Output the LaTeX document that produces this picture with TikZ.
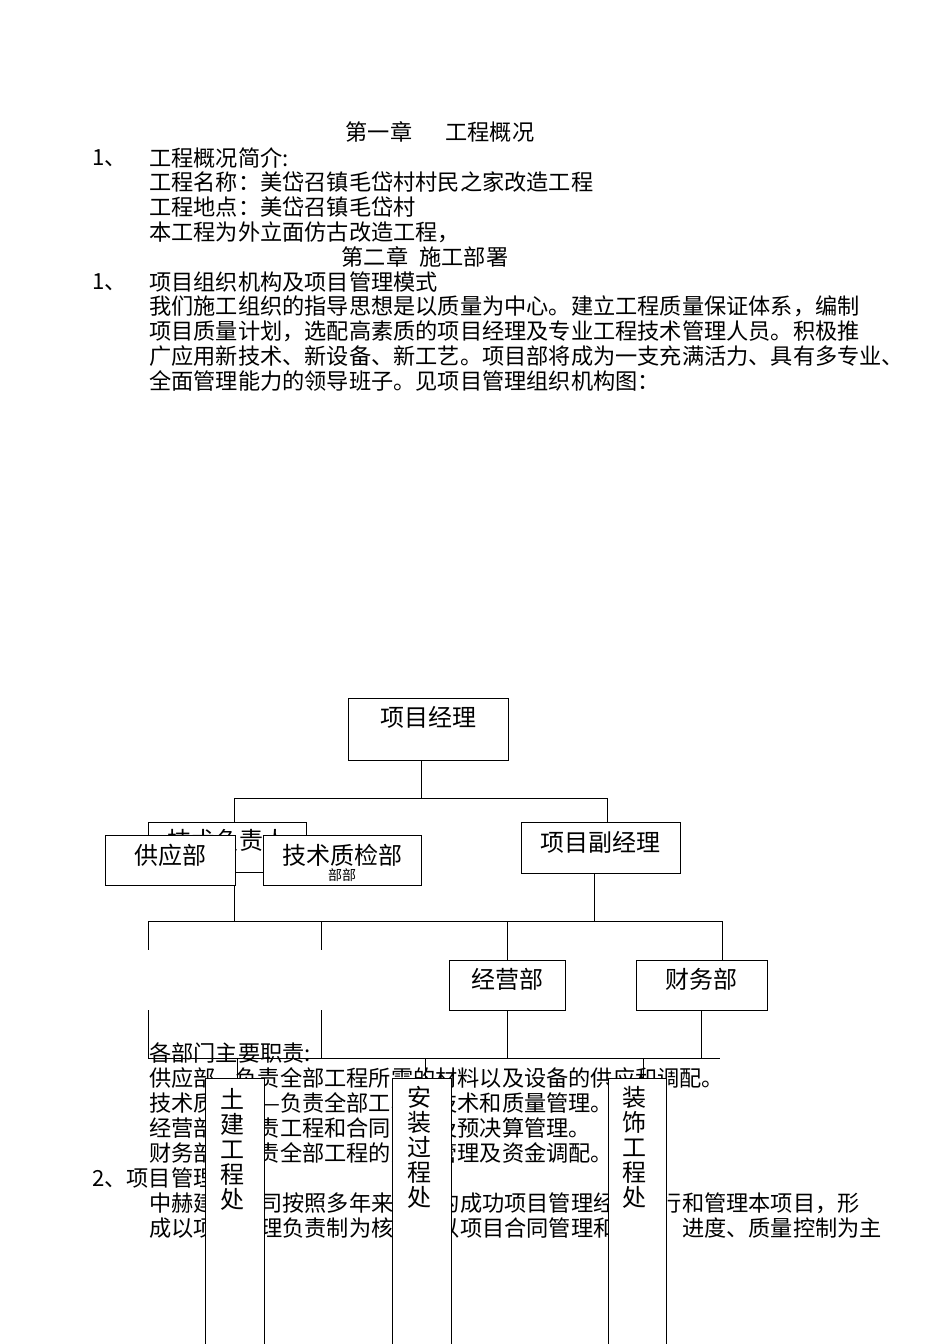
\documentclass[tikz,border=0pt]{standalone}
\usepackage{fontspec}
\setmainfont{Noto Sans CJK SC}
\begin{document}
\begin{tikzpicture}[x=1pt,y=-1pt,
 txt/.style={anchor=west,inner sep=0pt,font=\fontsize{22.2}{23}\selectfont},
 bx/.style={draw,fill=white,line width=0.8pt,inner sep=0pt},
 lbl/.style={inner sep=0pt,font=\fontsize{24}{25}\selectfont},
 ln/.style={line width=0.8pt}]
\useasboundingbox (0,0) rectangle (950,1344);
% text
\node[inner sep=0pt,font=\fontsize{22.2}{23}\selectfont] (t0) at (440,132) {第一章\hspace{1.5em}工程概况};
\node[txt] (t1a) at (92,158) {1、};
\node[txt] (t1) at (149,158) {工程概况简介:};
\node[txt] (t2) at (149,182) {工程名称：美岱召镇毛岱村村民之家改造工程};
\node[txt] (t3) at (149,207) {工程地点：美岱召镇毛岱村};
\node[txt] (t4) at (149,232) {本工程为外立面仿古改造工程，};
\node[inner sep=0pt,font=\fontsize{22.2}{23}\selectfont] (t5) at (425,257) {第二章\hspace{0.5em}施工部署};
\node[txt] (t6a) at (92,282) {1、};
\node[txt] (t6) at (149,282) {项目组织机构及项目管理模式};
\node[txt] (t7) at (149,306) {我们施工组织的指导思想是以质量为中心。建立工程质量保证体系，编制};
\node[txt] (t8) at (149,331) {项目质量计划，选配高素质的项目经理及专业工程技术管理人员。积极推};
\node[txt] (t9) at (149,356) {广应用新技术、新设备、新工艺。项目部将成为一支充满活力、具有多专业、};
\node[txt] (t10) at (149,381) {全面管理能力的领导班子。见项目管理组织机构图：};
% lower text
\node[txt] (d0) at (149,1053) {各部门主要职责:};
\node[txt] (d1) at (149,1078) {供应部—负责全部工程所需的材料以及设备的供应和调配。};
\node[txt] (d2) at (149,1103) {技术质检部—负责全部工程的技术和质量管理。};
\node[txt] (d3) at (149,1128) {经营部—负责工程和合同管理及预决算管理。};
\node[txt] (d4) at (149,1153) {财务部—负责全部工程的财务管理及资金调配。};
\node[txt] (d5) at (92,1178) {2、项目管理模式};
\node[txt] (d6) at (149,1203) {中赫建筑公司按照多年来积累的成功项目管理经验运行和管理本项目，形};
\node[txt] (d7) at (149,1228) {成以项目经理负责制为核心，以项目合同管理和成本、进度、质量控制为主};
% connectors
\coordinate (h1l) at (234,798); \coordinate (h1r) at (607,798); \coordinate (h1m) at (421,798);
\draw[ln] (421,760) -- (h1m);
\draw[ln] (h1l) -- (h1r);
\draw[ln] (h1l) -- (234,822);
\draw[ln] (h1r) -- (607,822);
\coordinate (h2l) at (148,921); \coordinate (h2r) at (722,921);
\draw[ln] (h2l) -- (h2r);
\draw[ln] (234,885) -- (234,921);
\draw[ln] (594,873) -- (594,921);
\draw[ln] (h2l) -- (148,950); \draw[ln] (148,1010) -- (148,1058);
\draw[ln] (321,921) -- (321,950); \draw[ln] (321,1010) -- (321,1058);
\draw[ln] (507,921) -- (507,960); \draw[ln] (722,921) -- (722,960);
\draw[ln] (507,1010) -- (507,1058);
\draw[ln] (701,1010) -- (701,1058);
\coordinate (h3l) at (148,1058); \coordinate (h3r) at (720,1058);
\draw[ln] (h3l) -- (h3r);
\draw[ln] (237,1058) -- (237,1078);
\draw[ln] (425,1058) -- (425,1078);
\draw[ln] (643,1058) -- (643,1078);
% boxes
\draw[bx] (348,698) rectangle (508,760);
\node[lbl] (pm) at (428,717) {项目经理};
\draw[bx] (148,822) rectangle (306,872);
\node[lbl] (tech) at (227,840) {技术负责人};
\draw[bx] (105,835) rectangle (235,885);
\node[lbl] (gy) at (170,855) {供应部};
\draw[bx] (263,835) rectangle (421,885);
\node[lbl] (jz) at (342,855) {技术质检部};
\node[inner sep=0pt,font=\fontsize{14}{15}\selectfont] (bb) at (342,875) {部部};
\draw[bx] (521,822) rectangle (680,873);
\node[lbl] (fm) at (600,842) {项目副经理};
\draw[bx] (449,960) rectangle (565,1010);
\node[lbl] (jy) at (507,979) {经营部};
\draw[bx] (636,960) rectangle (767,1010);
\node[lbl] (cw) at (701,979) {财务部};
\draw[bx] (205,1078) rectangle (264,1344);
\node[lbl,align=center] (b1) at (232,1088) [anchor=north] {土\\建\\工\\程\\处};
\draw[bx] (392,1078) rectangle (451,1344);
\node[lbl,align=center] (b2) at (419,1086) [anchor=north] {安\\装\\过\\程\\处};
\draw[bx] (608,1078) rectangle (666,1344);
\node[lbl,align=center] (b3) at (634,1086) [anchor=north] {装\\饰\\工\\程\\处};
\end{tikzpicture}
\end{document}
